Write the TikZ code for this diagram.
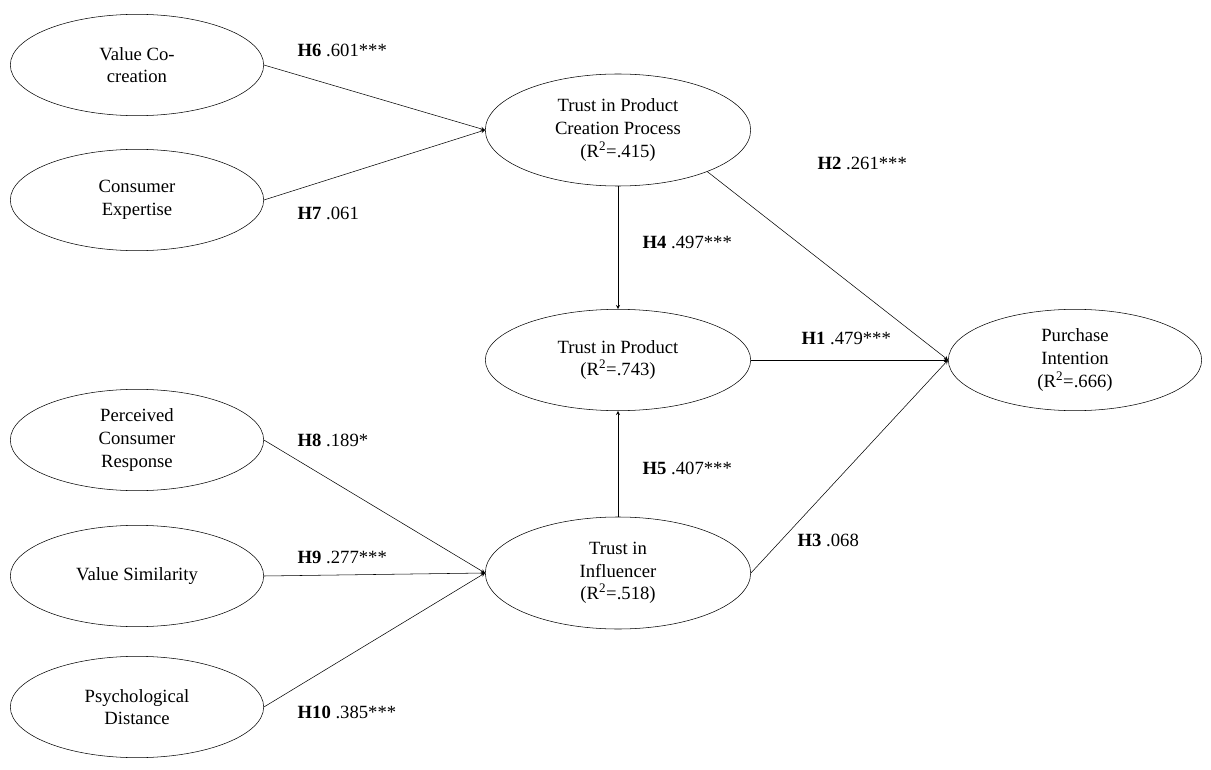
\documentclass[tikz,border=0pt]{standalone}
\usepackage{fontspec}
\setmainfont{Liberation Serif}
\usetikzlibrary{shapes.geometric, arrows}
\newcommand{\hyp}[2]{\textbf{#1} #2}

\begin{document}
\begin{tikzpicture}[
    ->,
    >=stealth,
    x=0.75pt,
    y=-0.75pt,
    construct/.style={ellipse, draw, thin, align=center, font=\fontsize{14}{17}\selectfont,
        minimum width=190pt, minimum height=76pt, inner sep=0pt},
    mediator/.style={construct, minimum width=199pt, minimum height=84pt},
    path label/.style={font=\fontsize{14}{17}\selectfont, anchor=west}
]
    \useasboundingbox (0,0) rectangle (1211,770);

    \node[construct] (vc) at (137,65) {Value Co-\\creation};
    \node[construct] (ce) at (137,200) {Consumer\\Expertise};
    \node[construct] (pcr) at (137,440) {Perceived\\Consumer\\Response};
    \node[construct] (vs) at (137,576) {Value Similarity};
    \node[construct] (pd) at (137,707) {Psychological\\Distance};

    \node[mediator] (tpcp) at (618,130) {Trust in Product\\Creation Process\\(R\textsuperscript{2}=.415)};
    \node[mediator, minimum height=76pt] (tp) at (618,360) {Trust in Product\\(R\textsuperscript{2}=.743)};
    \node[mediator] (ti) at (618,573) {Trust in\\Influencer\\(R\textsuperscript{2}=.518)};
    \node[construct] (pi) at (1075,360) {Purchase\\Intention\\(R\textsuperscript{2}=.666)};

    \draw (vc.east) -- (tpcp.west);
    \draw (ce.east) -- (tpcp.west);
    \draw (tpcp.south) -- (tp.north);
    \draw (ti.north) -- (tp.south);
    \draw (tp.east) -- (pi.west);
    \draw (tpcp.-25) -- (pi.west);
    \draw (ti.east) -- (pi.west);
    \draw (pcr.east) -- (ti.west);
    \draw (vs.east) -- (ti.west);
    \draw (pd.east) -- (ti.west);

    \node[path label] (l6) at (293,50) {\hyp{H6}{.601***}};
    \node[path label] (l7) at (293,213) {\hyp{H7}{.061}};
    \node[path label] (l2) at (813,163) {\hyp{H2}{.261***}};
    \node[path label] (l4) at (638,242) {\hyp{H4}{.497***}};
    \node[path label] (l1) at (797,338) {\hyp{H1}{.479***}};
    \node[path label] (l5) at (638,468) {\hyp{H5}{.407***}};
    \node[path label] (l3) at (793,540) {\hyp{H3}{.068}};
    \node[path label] (l8) at (293,440) {\hyp{H8}{.189*}};
    \node[path label] (l9) at (293,557) {\hyp{H9}{.277***}};
    \node[path label] (l10) at (293,712) {\hyp{H10}{.385***}};
\end{tikzpicture}
\end{document}
